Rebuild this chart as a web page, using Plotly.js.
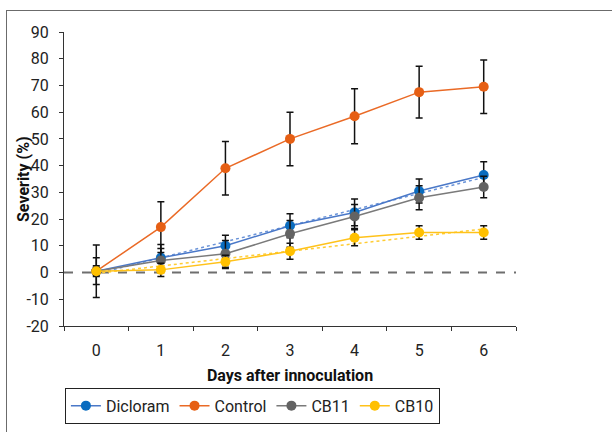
<!DOCTYPE html>
<html><head><meta charset="utf-8">
<script src="https://cdn.plot.ly/plotly-3.0.1.min.js"></script>
<style>
html,body{margin:0;padding:0;background:#fff;}
#wrap{position:relative;width:612px;height:432px;overflow:hidden;}
#chart{width:612px;height:432px;}
#frame{position:absolute;left:6px;top:10px;width:640px;height:460px;border:1px solid #6b6b6b;pointer-events:none;}
</style></head>
<body><div id="wrap"><div id="chart"></div><div id="frame"></div></div>
<script>
const days = ['0','1','2','3','4','5','6'];
const dicloram = [0.5, 5.5, 10, 17.5, 22.5, 30.5, 36.5];
const diclaramErr = [5, 5, 4, 4.5, 5, 4.5, 5];
const control = [0.5, 17, 39, 50, 58.5, 67.5, 69.5];
const controlErr = [9.8, 9.5, 10, 10, 10.3, 9.7, 10];
const cb11 = [0.5, 4.5, 7, 14.5, 21, 28, 32];
const cb11Err = [2, 4.5, 5, 5, 4.5, 4.5, 4];
const cb10 = [0.5, 1, 4, 8, 13, 15, 15];
const cb10Err = [1.5, 2.5, 2.5, 3, 3, 2.5, 2.5];
const trendX = ['0','6'];
const dicloramTrend = [-0.5, 35.6];
const cb10Trend = [-0.3, 16.3];
const yTickVals = [-20,-10,0,10,20,30,40,50,60,70,80,90];
const yTickText = ['-20','-10','0','10','20','30','40','50','60','70','80','90'];

const FONT = 'Roboto, "Liberation Sans", sans-serif';

function series(name, y, err, lineColor, markerColor){
  return {x: days, y: y, name: name, type: 'scatter', mode: 'lines+markers',
    line: {color: lineColor, width: 1.5},
    marker: {color: markerColor, size: 10},
    error_y: {type: 'data', array: err, visible: true, color: '#111', thickness: 1.5, width: 3.5}};
}
function trend(y, color){
  return {x: trendX, y: y, type: 'scatter', mode: 'lines', showlegend: false, hoverinfo: 'skip',
    line: {color: color, width: 1.5, dash: 'dot'}};
}
const data = [
  trend(dicloramTrend, '#6a93d8'),
  trend(cb10Trend, '#ffcc33'),
  series('Dicloram', dicloram, diclaramErr, '#4a78c8', '#0a6cbf'),
  series('Control', control, controlErr, '#ea6a26', '#e65f14'),
  series('CB11', cb11, cb11Err, '#7a7a7a', '#636363'),
  series('CB10', cb10, cb10Err, '#ffc21a', '#ffc000')
];
const layout = {
  width: 612, height: 432,
  margin: {l: 64, r: 96, t: 32, b: 106, autoexpand: false},
  paper_bgcolor: '#fff', plot_bgcolor: '#fff',
  font: {family: FONT, size: 16, color: '#222'},
  showlegend: true,
  legend: {orientation: 'h', x: 0.002, y: -0.21, xanchor: 'left', yanchor: 'top',
    bordercolor: '#222', borderwidth: 1, font: {family: FONT, size: 16, color: '#222'},
    traceorder: 'normal', itemwidth: 30},
  xaxis: {type: 'category', categoryorder: 'array', categoryarray: days,
    range: [-0.5, 6.5], tickson: 'boundaries', ticks: 'outside', ticklen: 4, ticklabelstandoff: 10,
    tickcolor: '#333', showline: true, linecolor: '#333', linewidth: 1, showgrid: false, zeroline: false,
    title: {text: '<b>Days after innoculation</b>', font: {family: FONT, size: 16, color: '#111'}, standoff: 10},
    fixedrange: true},
  yaxis: {range: [-20, 90], tickvals: yTickVals, ticktext: yTickText, ticks: 'outside', ticklen: 4, ticklabelstandoff: 7,
    tickcolor: '#333', showline: true, linecolor: '#333', linewidth: 1, showgrid: false, zeroline: false,
    fixedrange: true},
  annotations: [{text: '<b>Severity (%)</b>', xref: 'paper', yref: 'paper', x: -0.0907, y: 0.5,
    xanchor: 'center', yanchor: 'middle', textangle: -90, showarrow: false,
    font: {family: FONT, size: 16, color: '#111'}}],
  shapes: [{type: 'line', xref: 'paper', x0: 0, x1: 1, yref: 'y', y0: 0, y1: 0,
    line: {color: '#6e6e6e', width: 2, dash: 'dash'}, layer: 'below'}]
};
Plotly.newPlot('chart', data, layout, {staticPlot: true});
</script></body></html>
